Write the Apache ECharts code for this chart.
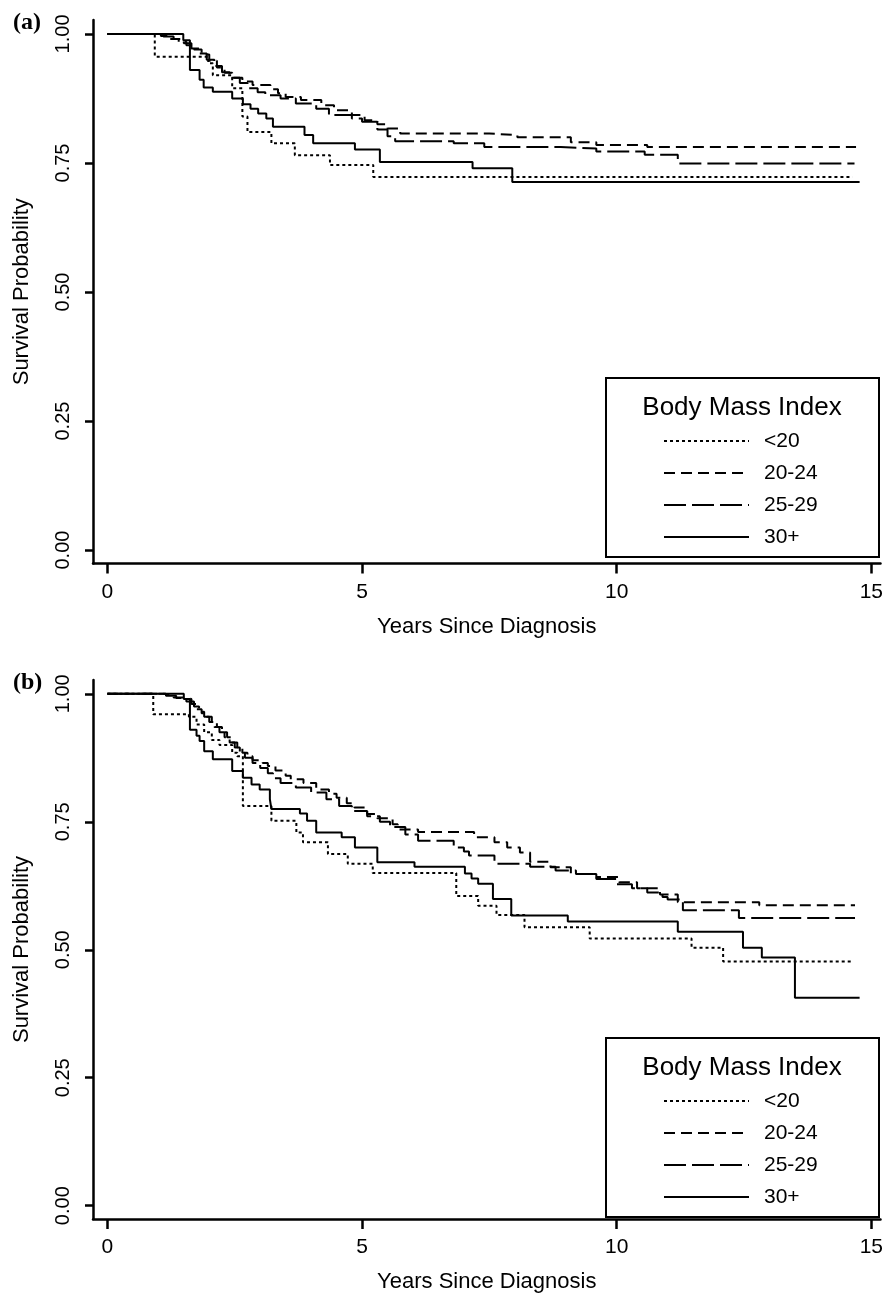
<!DOCTYPE html>
<html lang="en">
<head>
<meta charset="UTF-8">
<title>Survival by Body Mass Index</title>
<script src="https://cdn.jsdelivr.net/npm/echarts@6.0.0/dist/echarts.min.js"></script>
<style>
  html, body { margin: 0; padding: 0; background: #fff; }
  #main { width: 886px; height: 1294px; }
</style>
</head>
<body>
<div id="main"></div>
<script type="text/javascript">
// tick labels
var xTicks = [0, 5, 10, 15];
var yTicks = [0, 0.25, 0.5, 0.75, 1];
var groups = ['<20', '20-24', '25-29', '30+'];

// panel (a): [years, survival], value holds from that time on
var a_lt20 = [[0,1],[0.93,0.956],[1.98,0.943],[2.07,0.92],[2.45,0.895],[2.65,0.84],[2.75,0.81],[3.22,0.788],[3.68,0.765],[4.37,0.746],[5.22,0.723],[14.63,0.723]];
var a_20_24 = [[0,1],[1.05,0.996],[1.2,0.99],[1.4,0.985],[1.55,0.978],[1.7,0.97],[1.85,0.96],[2.0,0.948],[2.15,0.935],[2.3,0.925],[2.45,0.915],[2.65,0.908],[2.85,0.901],[3.2,0.893],[3.35,0.885],[3.5,0.878],[3.8,0.872],[4.2,0.862],[4.45,0.852],[4.8,0.843],[5.05,0.833],[5.3,0.825],[5.5,0.817],[5.75,0.807],[7.5,0.804],[8.05,0.8],[9.1,0.79],[9.6,0.785],[10.6,0.781],[14.7,0.781]];
var a_25_29 = [[0,1],[1.1,0.995],[1.3,0.99],[1.5,0.982],[1.65,0.972],[1.8,0.962],[1.95,0.95],[2.1,0.938],[2.25,0.926],[2.4,0.915],[2.6,0.905],[2.75,0.895],[2.95,0.887],[3.1,0.881],[3.4,0.875],[3.7,0.865],[4.1,0.855],[4.35,0.843],[4.8,0.836],[5.0,0.83],[5.3,0.815],[5.5,0.802],[5.65,0.792],[6.8,0.788],[7.4,0.781],[8.9,0.778],[9.6,0.772],[10.55,0.766],[11.2,0.749],[14.67,0.749]];
var a_30p = [[0,1],[1.49,0.988],[1.62,0.93],[1.81,0.911],[1.89,0.896],[2.07,0.888],[2.45,0.875],[2.66,0.864],[2.81,0.855],[2.96,0.846],[3.12,0.836],[3.25,0.82],[3.87,0.804],[4.04,0.788],[4.86,0.776],[5.35,0.752],[7.17,0.74],[7.95,0.713],[14.77,0.713]];

// panel (b)
var b_lt20 = [[0,1],[0.9,0.96],[1.6,0.955],[1.75,0.94],[1.9,0.925],[2.05,0.91],[2.2,0.9],[2.45,0.885],[2.55,0.878],[2.66,0.781],[3.22,0.752],[3.71,0.729],[3.84,0.71],[4.33,0.687],[4.72,0.668],[5.21,0.65],[6.85,0.605],[7.28,0.586],[7.64,0.568],[8.19,0.544],[9.47,0.522],[11.47,0.504],[12.09,0.477],[14.61,0.477]];
var b_20_24 = [[0,1],[1.1,0.997],[1.3,0.993],[1.5,0.99],[1.65,0.98],[1.75,0.97],[1.85,0.962],[1.95,0.955],[2.05,0.945],[2.15,0.935],[2.25,0.925],[2.35,0.915],[2.45,0.905],[2.55,0.895],[2.65,0.885],[2.75,0.878],[2.85,0.87],[3.05,0.865],[3.15,0.859],[3.3,0.85],[3.5,0.84],[3.6,0.833],[3.85,0.826],[4.1,0.813],[4.35,0.805],[4.5,0.797],[4.7,0.786],[4.85,0.778],[5.1,0.765],[5.3,0.757],[5.6,0.745],[5.7,0.735],[6.1,0.73],[7.2,0.72],[7.6,0.71],[7.85,0.7],[8.1,0.69],[8.3,0.672],[8.7,0.661],[9.1,0.648],[9.6,0.642],[10.05,0.632],[10.4,0.62],[10.85,0.608],[11.2,0.593],[12.8,0.587],[14.68,0.587]];
var b_25_29 = [[0,1],[1.15,0.996],[1.35,0.992],[1.55,0.985],[1.7,0.975],[1.8,0.965],[1.9,0.955],[2.0,0.945],[2.1,0.935],[2.2,0.925],[2.3,0.915],[2.4,0.905],[2.5,0.895],[2.6,0.885],[2.7,0.875],[2.85,0.865],[3.0,0.855],[3.15,0.845],[3.25,0.835],[3.4,0.826],[3.7,0.817],[4.0,0.807],[4.3,0.794],[4.55,0.781],[4.8,0.771],[5.1,0.761],[5.35,0.75],[5.55,0.74],[5.85,0.725],[6.1,0.713],[6.8,0.7],[7.0,0.692],[7.1,0.684],[7.6,0.668],[8.3,0.662],[8.8,0.655],[9.2,0.648],[9.6,0.638],[10.0,0.628],[10.3,0.62],[10.6,0.612],[10.9,0.603],[11.0,0.598],[11.3,0.577],[12.4,0.562],[14.68,0.562]];
var b_30p = [[0,1],[1.5,0.99],[1.62,0.93],[1.75,0.918],[1.81,0.908],[1.9,0.888],[2.07,0.872],[2.45,0.849],[2.66,0.836],[2.83,0.823],[2.99,0.813],[3.19,0.794],[3.22,0.775],[3.78,0.766],[3.92,0.752],[4.1,0.729],[4.6,0.72],[4.86,0.7],[5.3,0.671],[6.03,0.662],[7.02,0.649],[7.15,0.639],[7.28,0.629],[7.57,0.599],[7.93,0.567],[9.04,0.555],[11.2,0.535],[12.48,0.504],[12.85,0.485],[13.5,0.406],[14.77,0.406]];

var dashes = [[3, 3], [11, 6], [22, 6], 'solid'];
var panelTops = [20, 680];
var font = '"Liberation Sans", Arial, sans-serif';

var myChart = echarts.init(document.getElementById('main'));

function xAxisFor(i) {
    return {
        type: 'value', gridIndex: i, min: -0.283, max: 15.18,
        name: 'Years Since Diagnosis', nameLocation: 'middle', nameGap: 52,
        nameTextStyle: {color: '#000', fontSize: 22, fontFamily: font, verticalAlign: 'top'},
        axisLine: {onZero: false, lineStyle: {color: '#000', width: 2.5}},
        axisTick: {customValues: xTicks, length: 10, lineStyle: {color: '#000', width: 2.5}},
        axisLabel: {customValues: xTicks, margin: 18, color: '#000', fontSize: 21, fontFamily: font},
        splitLine: {show: false}
    };
}
function yAxisFor(i) {
    return {
        type: 'value', gridIndex: i, min: -0.026, max: 1.027,
        name: 'Survival Probability', nameLocation: 'middle', nameGap: 60, nameRotate: 90,
        nameTextStyle: {color: '#000', fontSize: 22, fontFamily: font},
        axisLine: {show: true, onZero: false, lineStyle: {color: '#000', width: 2.5}},
        axisTick: {show: true, customValues: yTicks, length: 8, lineStyle: {color: '#000', width: 2.5}},
        axisLabel: {customValues: yTicks, rotate: 90, margin: 20, color: '#000', fontSize: 20, fontFamily: font,
            formatter: function (v) { return v.toFixed(2); }},
        splitLine: {show: false}
    };
}
function seriesFor(i, data) {
    return data.map(function (d, k) {
        return {
            name: groups[k], type: 'line', xAxisIndex: i, yAxisIndex: i,
            step: 'end', symbol: 'none', data: d, silent: true,
            itemStyle: {color: '#000'},
            lineStyle: {color: '#000', width: 2, type: dashes[k]}
        };
    });
}
function legendFor(i) {
    return {
        data: groups, orient: 'vertical', left: 663, top: panelTops[i] + 410, padding: 0,
        itemWidth: 85, itemHeight: 14, itemGap: 10, selectedMode: false, z: 10,
        itemStyle: {opacity: 0},
        lineStyle: {width: 2, color: '#000'},
        textStyle: {color: '#000', fontSize: 21, fontFamily: font, lineHeight: 22, padding: [0, 0, 0, 10]}
    };
}
function boxFor(i, label) {
    var t = panelTops[i];
    return [
        {type: 'rect', shape: {x: 606, y: t + 358, width: 273, height: 179},
            style: {fill: '#fff', stroke: '#000', lineWidth: 2}, z: 1},
        {type: 'text', x: 742, y: t + 388, z: 6,
            style: {text: 'Body Mass Index', fill: '#000', font: '26px ' + font, textAlign: 'center', textVerticalAlign: 'middle'}},
        {type: 'text', x: 13, y: t + 3, z: 6,
            style: {text: label, fill: '#000', font: 'bold 24px "Liberation Serif", "Times New Roman", serif', textAlign: 'left', textVerticalAlign: 'middle'}}
    ];
}

myChart.setOption({
    animation: false,
    grid: [
        {left: 93, top: panelTops[0], width: 789, height: 543.5},
        {left: 93, top: panelTops[1], width: 789, height: 543.5}
    ],
    xAxis: [xAxisFor(0), xAxisFor(1)],
    yAxis: [yAxisFor(0), yAxisFor(1)],
    legend: [legendFor(0), legendFor(1)],
    graphic: boxFor(0, '(a)').concat(boxFor(1, '(b)')),
    series: seriesFor(0, [a_lt20, a_20_24, a_25_29, a_30p])
        .concat(seriesFor(1, [b_lt20, b_20_24, b_25_29, b_30p]))
});
</script>
</body>
</html>
